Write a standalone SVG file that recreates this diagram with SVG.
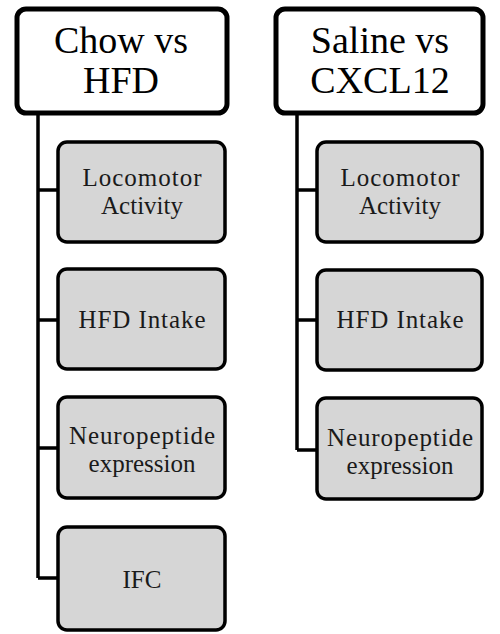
<svg xmlns="http://www.w3.org/2000/svg" width="500" height="634" viewBox="0 0 500 634">
<style>
.top{fill:#fff;stroke:#000;stroke-width:5}
.child{fill:#d6d6d6;stroke:#000;stroke-width:3.5}
.tt{font-family:"Liberation Serif","Times New Roman",serif;font-size:38px;fill:#000;text-anchor:middle}
.ct{font-family:"Liberation Serif","Times New Roman",serif;font-size:25px;fill:#1a1a1a;text-anchor:middle}
.conn{fill:none;stroke:#000;stroke-width:3.5}
</style>
<rect width="500" height="634" fill="#fff"/>
<g id="connectors">
<path class="conn" d="M38,113 V578 M38,190 H58 M38,320 H58 M38,448 H58 M38,578 H58"/>
<path class="conn" d="M297,113 V450 M297,190 H317 M297,320 H317 M297,450 H317"/>
</g>
<g id="chow">
<rect class="top" x="17" y="9" width="210" height="104" rx="9"/>
<text class="tt" x="121" y="53">Chow vs</text>
<text class="tt" x="121" y="93">HFD</text>
</g>
<g id="saline">
<rect class="top" x="276" y="9" width="207" height="104" rx="9"/>
<text class="tt" x="380" y="53">Saline vs</text>
<text class="tt" x="380" y="93">CXCL12</text>
</g>
<g id="l-loco">
<rect class="child" x="58" y="142" width="167" height="100" rx="9"/>
<text class="ct" x="142" y="186" textLength="119">Locomotor</text>
<text class="ct" x="142" y="214">Activity</text>
</g>
<g id="l-hfd">
<rect class="child" x="58" y="269" width="167" height="100" rx="9"/>
<text class="ct" x="142" y="328" textLength="127">HFD Intake</text>
</g>
<g id="l-neuro">
<rect class="child" x="58" y="397" width="167" height="101" rx="9"/>
<text class="ct" x="142" y="444" textLength="146">Neuropeptide</text>
<text class="ct" x="142" y="472">expression</text>
</g>
<g id="l-ifc">
<rect class="child" x="58" y="527" width="167" height="103" rx="9"/>
<text class="ct" x="142" y="588">IFC</text>
</g>
<g id="r-loco">
<rect class="child" x="317" y="142" width="165" height="100" rx="9"/>
<text class="ct" x="400" y="186" textLength="119">Locomotor</text>
<text class="ct" x="400" y="214">Activity</text>
</g>
<g id="r-hfd">
<rect class="child" x="317" y="270" width="165" height="100" rx="9"/>
<text class="ct" x="400" y="328" textLength="127">HFD Intake</text>
</g>
<g id="r-neuro">
<rect class="child" x="317" y="398" width="165" height="101" rx="9"/>
<text class="ct" x="400" y="446" textLength="146">Neuropeptide</text>
<text class="ct" x="400" y="474">expression</text>
</g>
</svg>
